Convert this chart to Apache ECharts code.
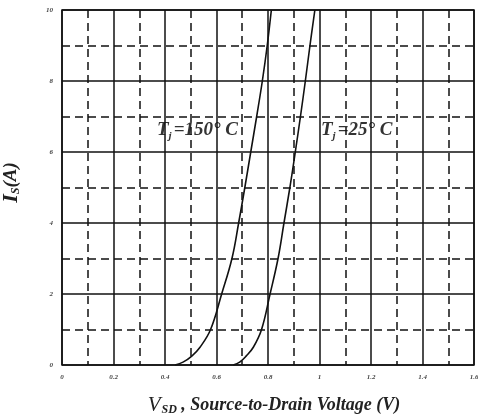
<!DOCTYPE html>
<html><head><meta charset="utf-8">
<script src="https://cdn.jsdelivr.net/npm/echarts@6/dist/echarts.min.js"></script>
<style>html,body{margin:0;padding:0;background:#fff}#c{width:478px;height:418px}</style>
</head><body><div id="c"></div>
<script>
var v150 = [0.439, 0.47, 0.504, 0.536, 0.577, 0.62, 0.66, 0.686, 0.71, 0.733, 0.756, 0.778, 0.797, 0.813];
var i150 = [0, 0.08, 0.25, 0.5, 1, 2, 3, 4, 5, 6, 7, 8, 9, 10];
var v25 = [0.665, 0.69, 0.715, 0.743, 0.775, 0.808, 0.839, 0.862, 0.885, 0.906, 0.926, 0.945, 0.963, 0.982];
var i25 = [0, 0.08, 0.25, 0.5, 1, 2, 3, 4, 5, 6, 7, 8, 9, 10];
var xTicks = ['0', '0.2', '0.4', '0.6', '0.8', '1', '1.2', '1.4', '1.6'];
var yTicks = ['0', '2', '4', '6', '8', '10'];
var label150 = '150° C';
var label25 = '25° C';

function pairs(xs, ys) { return xs.map(function (x, k) { return [x, ys[k]]; }); }
var serif = '"Liberation Serif", "DejaVu Serif", serif';
var tickStyle = { fontFamily: serif, fontStyle: 'italic', fontWeight: 'bold', fontSize: 7, color: '#444' };
function annRich() {
  return {
    t: { fontFamily: serif, fontStyle: 'italic', fontWeight: 'bold', fontSize: 19, fill: '#333' },
    s: { fontFamily: serif, fontStyle: 'italic', fontWeight: 'bold', fontSize: 11, fill: '#333', padding: [11, 2, 0, 0] },
    r: { fontFamily: serif, fontStyle: 'italic', fontWeight: 'bold', fontSize: 19, fill: '#333' }
  };
}
var chart = echarts.init(document.getElementById('c'));
chart.setOption({
  animation: false,
  backgroundColor: '#fff',
  grid: { left: 62, right: 4, top: 10, bottom: 53, show: true, borderColor: '#111', borderWidth: 1.5, containLabel: false, outerBoundsMode: 'none' },
  xAxis: {
    type: 'value', min: 0, max: 1.6, interval: 0.2,
    axisLine: { show: false }, axisTick: { show: false },
    axisLabel: Object.assign({ margin: 9, formatter: function (v) { return xTicks[Math.round(v / 0.2)]; } }, tickStyle),
    splitLine: { show: true, lineStyle: { color: '#111', width: 1.5 } },
    minorTick: { show: false, splitNumber: 2 },
    minorSplitLine: { show: true, lineStyle: { color: '#111', width: 1.5, type: [8, 5] } },
    name: '{v|V}{sub|SD}{t| , Source-to-Drain Voltage (V)}',
    nameLocation: 'middle', nameGap: 30,
    nameTextStyle: {
      padding: [0, 0, 0, 12],
      rich: {
        v: { fontFamily: serif, fontStyle: 'italic', fontSize: 21, color: '#222' },
        sub: { fontFamily: serif, fontStyle: 'italic', fontWeight: 'bold', fontSize: 12, color: '#222', verticalAlign: 'bottom', padding: [9, 0, 0, 1] },
        t: { fontFamily: serif, fontStyle: 'italic', fontWeight: 'bold', fontSize: 18, color: '#222' }
      }
    }
  },
  yAxis: {
    type: 'value', min: 0, max: 10, interval: 2,
    axisLine: { show: false }, axisTick: { show: false },
    axisLabel: Object.assign({ margin: 9, formatter: function (v) { return yTicks[Math.round(v / 2)]; } }, tickStyle),
    splitLine: { show: true, lineStyle: { color: '#111', width: 1.5 } },
    minorTick: { show: false, splitNumber: 2 },
    minorSplitLine: { show: true, lineStyle: { color: '#111', width: 1.5, type: [8, 5] } },
    name: '{v|I}{sub|S}{t|(A)}',
    nameLocation: 'middle', nameGap: 40, nameRotate: 90,
    nameTextStyle: {
      padding: [0, 0, 0, 10],
      rich: {
        v: { fontFamily: serif, fontStyle: 'italic', fontWeight: 'bold', fontSize: 22, color: '#222' },
        sub: { fontFamily: serif, fontStyle: 'italic', fontWeight: 'bold', fontSize: 12, color: '#222', padding: [9, 0, 0, 0] },
        t: { fontFamily: serif, fontStyle: 'italic', fontWeight: 'bold', fontSize: 19, color: '#222' }
      }
    }
  },
  series: [
    { type: 'line', data: pairs(v150, i150), smooth: 0.4, showSymbol: false, lineStyle: { color: '#111', width: 1.6 } },
    { type: 'line', data: pairs(v25, i25), smooth: 0.4, showSymbol: false, lineStyle: { color: '#111', width: 1.6 } }
  ],
  graphic: [
    { type: 'text', left: 157, top: 121, style: { text: '{t|T}{s|j}{r|=' + label150 + '}', rich: annRich() } },
    { type: 'text', left: 321, top: 121, style: { text: '{t|T}{s|j}{r|=' + label25 + '}', rich: annRich() } }
  ]
});
</script></body></html>
